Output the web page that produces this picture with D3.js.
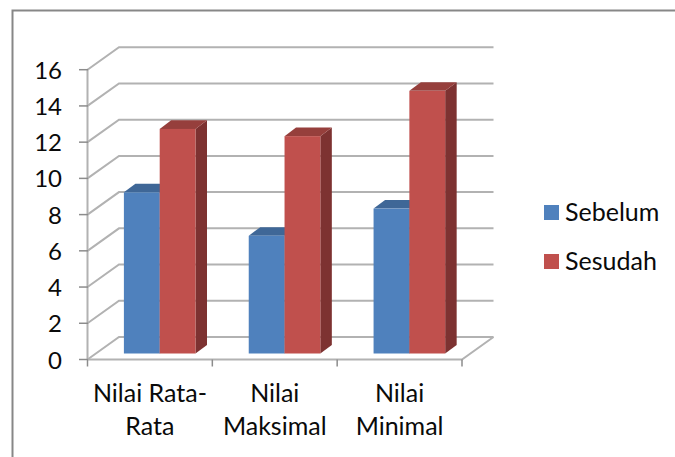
<!DOCTYPE html>
<html>
<head>
<meta charset="utf-8">
<script src="https://cdnjs.cloudflare.com/ajax/libs/d3/7.8.5/d3.min.js"></script>
<style>
  html, body { margin: 0; padding: 0; background: #fff; }
  svg { display: block; }
  text { font-family: Lato, "Open Sans", sans-serif; fill: #0a0a0a; }
</style>
</head>
<body>
<script>
const categories = [["Nilai Rata-", "Rata"], ["Nilai", "Maksimal"], ["Nilai", "Minimal"]];
const seriesNames = ["Sebelum", "Sesudah"];
const sebelum = [8.9, 6.5, 8.0];
const sesudah = [12.4, 12.0, 14.5];
const yTicks = [0, 2, 4, 6, 8, 10, 12, 14, 16];

const width = 675, height = 457;
const faceColors = ["#4F81BD", "#C0504D"];
const topColors = ["#3F6797", "#963F3C"];
const sideColors = ["#335279", "#7D3231"];
const gridColor = "#B2B2B2";
const numberSize = 24, labelSize = 25;

const svg = d3.select("body").append("svg").attr("width", width).attr("height", height);

// Outer chart frame, open past the right and bottom edges of the page
svg.append("path")
  .attr("d", `M${width + 2},10.5 H12.5 V${height + 2}`)
  .attr("fill", "none").attr("stroke", "#878787").attr("stroke-width", 2);

const x = d3.scaleBand().domain(d3.range(categories.length)).range([87.5, 462]);
const y = d3.scaleLinear().domain([0, 16]).range([359.5, 69.7]);

// Oblique projection: wall depth, and where the bars sit within it
const wall = { dx: 31.5, dy: -22.5 };
const barInset = { dx: 0, dy: -6 };
const barDepth = { dx: 11.5, dy: -8.6 };
const barOffset = 36.4, barWidth = 35.8;

const grid = svg.append("g").attr("fill", "none").attr("stroke", gridColor).attr("stroke-width", 2);

yTicks.forEach(t => {
  const front = y(t);
  grid.append("path").attr("d",
    `M${x.range()[0]},${front} l${wall.dx},${wall.dy} H${x.range()[1] + wall.dx}`);
});
// Floor edges and the front axis lines
grid.append("path").attr("d",
  `M${x.range()[0]},${y(0)} H${x.range()[1]} l${wall.dx},${wall.dy}`);
grid.append("path").attr("d", `M${x.range()[0]},${y(16)} V${y(0)}`);

// Tick marks
const ticks = svg.append("g").attr("stroke", "#8C8C8C").attr("stroke-width", 1.5);
yTicks.forEach(t => {
  ticks.append("line").attr("x1", 79).attr("x2", 88).attr("y1", y(t)).attr("y2", y(t));
});
d3.range(categories.length + 1).forEach(i => {
  const px = i < categories.length ? x(i) : x.range()[1];
  ticks.append("line").attr("x1", px).attr("x2", px).attr("y1", y(0)).attr("y2", y(0) + 7);
});

// Value labels on the vertical axis
svg.append("g").selectAll("text").data(yTicks).join("text")
  .attr("x", 62).attr("y", d => y(d) + 9)
  .attr("text-anchor", "end").attr("font-size", numberSize)
  .text(d => d);

// Category labels, two lines each
const catLabels = svg.append("g").selectAll("g").data(categories).join("g")
  .attr("transform", (d, i) => `translate(${x(i) + x.bandwidth() / 2},0)`);
catLabels.selectAll("text").data(d => d).join("text")
  .attr("y", (d, i) => 402 + i * 32.5)
  .attr("text-anchor", "middle").attr("font-size", labelSize)
  .text(d => d);

// Boxes: one per series per category, painted left to right
[sebelum, sesudah].forEach((values, s) => {
  const g = svg.append("g");
  values.forEach((v, i) => {
    const x0 = x(i) + barOffset + s * barWidth + barInset.dx;
    const x1 = x0 + barWidth;
    const yTop = y(v) + barInset.dy;
    const yBase = y(0) + barInset.dy;
    g.append("path").attr("fill", sideColors[s]).attr("d",
      `M${x1},${yTop} l${barDepth.dx},${barDepth.dy} V${yBase + barDepth.dy} L${x1},${yBase} Z`);
    g.append("path").attr("fill", topColors[s]).attr("d",
      `M${x0},${yTop} l${barDepth.dx},${barDepth.dy} H${x1 + barDepth.dx} L${x1},${yTop} Z`);
    g.append("rect").attr("fill", faceColors[s])
      .attr("x", x0).attr("y", yTop).attr("width", barWidth).attr("height", yBase - yTop);
  });
});

// Legend
const legend = svg.append("g").selectAll("g").data(seriesNames).join("g")
  .attr("transform", (d, i) => `translate(544,${205 + i * 49})`);
legend.append("rect").attr("width", 15).attr("height", 15).attr("fill", (d, i) => faceColors[i]);
legend.append("text").attr("x", 21).attr("y", 16).attr("font-size", labelSize).text(d => d);
</script>
</body>
</html>
